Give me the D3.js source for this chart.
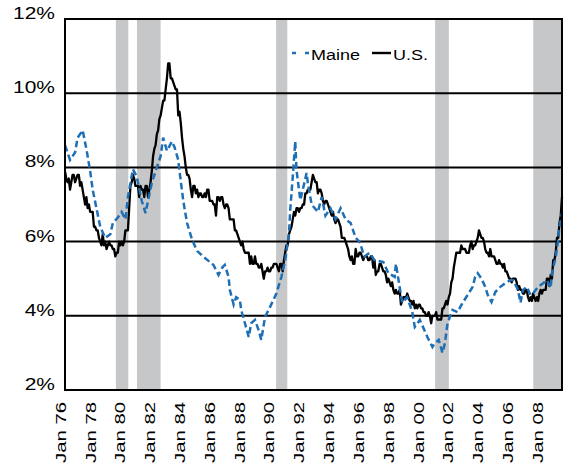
<!DOCTYPE html>
<html>
<head>
<meta charset="utf-8">
<script src="https://cdnjs.cloudflare.com/ajax/libs/d3/7.8.5/d3.min.js"></script>
<style>
  body { margin: 0; background: #fff; }
  svg { display: block; font-family: "Liberation Sans", Arial, Helvetica, sans-serif; }
</style>
</head>
<body>
<div id="chart"></div>
<script>
// U.S. unemployment rate (%), monthly, Jan 1976 - Dec 2008
var usRate = [
  7.9, 7.7, 7.6, 7.7, 7.4, 7.6, 7.8, 7.8, 7.6, 7.7, 7.8, 7.8,   // 1976
  7.5, 7.6, 7.4, 7.2, 7.0, 7.2, 6.9, 7.0, 6.8, 6.8, 6.8, 6.4,   // 1977
  6.4, 6.3, 6.3, 6.1, 6.0, 5.9, 6.2, 5.9, 6.0, 5.8, 5.9, 6.0,   // 1978
  5.9, 5.9, 5.8, 5.8, 5.6, 5.7, 5.7, 6.0, 5.9, 6.0, 5.9, 6.0,   // 1979
  6.3, 6.3, 6.3, 6.9, 7.5, 7.6, 7.8, 7.7, 7.5, 7.5, 7.5, 7.2,   // 1980
  7.5, 7.4, 7.4, 7.2, 7.5, 7.5, 7.2, 7.4, 7.6, 7.9, 8.3, 8.5,   // 1981
  8.6, 8.9, 9.0, 9.3, 9.4, 9.6, 9.8, 9.8, 10.1, 10.4, 10.8, 10.8, // 1982
  10.4, 10.4, 10.3, 10.2, 10.1, 10.1, 9.4, 9.5, 9.2, 8.8, 8.5, 8.3, // 1983
  8.0, 7.8, 7.8, 7.7, 7.4, 7.2, 7.5, 7.5, 7.3, 7.4, 7.2, 7.3,   // 1984
  7.3, 7.2, 7.2, 7.3, 7.2, 7.4, 7.4, 7.1, 7.1, 7.1, 7.0, 7.0,   // 1985
  6.7, 7.2, 7.2, 7.1, 7.2, 7.2, 7.0, 6.9, 7.0, 7.0, 6.9, 6.6,   // 1986
  6.6, 6.6, 6.6, 6.3, 6.3, 6.2, 6.1, 6.0, 5.9, 6.0, 5.8, 5.7,   // 1987
  5.7, 5.7, 5.7, 5.4, 5.6, 5.4, 5.4, 5.6, 5.4, 5.4, 5.3, 5.3,   // 1988
  5.4, 5.2, 5.0, 5.2, 5.2, 5.3, 5.2, 5.2, 5.3, 5.3, 5.4, 5.4,   // 1989
  5.4, 5.3, 5.2, 5.4, 5.4, 5.2, 5.5, 5.7, 5.9, 5.9, 6.2, 6.3,   // 1990
  6.4, 6.6, 6.8, 6.7, 6.9, 6.9, 6.8, 6.9, 6.9, 7.0, 7.0, 7.3,   // 1991
  7.3, 7.4, 7.4, 7.4, 7.6, 7.8, 7.7, 7.6, 7.6, 7.3, 7.4, 7.4,   // 1992
  7.3, 7.1, 7.0, 7.1, 7.1, 7.0, 6.9, 6.8, 6.7, 6.8, 6.6, 6.5,   // 1993
  6.6, 6.6, 6.5, 6.4, 6.1, 6.1, 6.1, 6.0, 5.9, 5.8, 5.6, 5.5,   // 1994
  5.6, 5.4, 5.4, 5.8, 5.6, 5.6, 5.7, 5.7, 5.6, 5.5, 5.6, 5.6,   // 1995
  5.6, 5.5, 5.5, 5.6, 5.6, 5.3, 5.5, 5.1, 5.2, 5.2, 5.4, 5.4,   // 1996
  5.3, 5.2, 5.2, 5.1, 4.9, 5.0, 4.9, 4.8, 4.9, 4.7, 4.6, 4.7,   // 1997
  4.6, 4.6, 4.7, 4.3, 4.4, 4.5, 4.5, 4.5, 4.6, 4.5, 4.4, 4.4,   // 1998
  4.3, 4.4, 4.2, 4.3, 4.2, 4.3, 4.3, 4.2, 4.2, 4.1, 4.1, 4.0,   // 1999
  4.0, 4.1, 4.0, 3.8, 4.0, 4.0, 4.0, 4.1, 3.9, 3.9, 3.9, 3.9,   // 2000
  4.2, 4.2, 4.3, 4.4, 4.3, 4.5, 4.6, 4.9, 5.0, 5.3, 5.5, 5.7,   // 2001
  5.7, 5.7, 5.7, 5.9, 5.8, 5.8, 5.8, 5.7, 5.7, 5.7, 5.9, 6.0,   // 2002
  5.8, 5.9, 5.9, 6.0, 6.1, 6.3, 6.2, 6.1, 6.1, 6.0, 5.8, 5.7,   // 2003
  5.7, 5.6, 5.8, 5.6, 5.6, 5.6, 5.5, 5.4, 5.4, 5.5, 5.4, 5.4,   // 2004
  5.3, 5.4, 5.2, 5.2, 5.1, 5.0, 5.0, 4.9, 5.0, 5.0, 5.0, 4.9,   // 2005
  4.7, 4.8, 4.7, 4.7, 4.6, 4.6, 4.7, 4.7, 4.5, 4.4, 4.5, 4.4,   // 2006
  4.6, 4.5, 4.4, 4.5, 4.4, 4.6, 4.7, 4.6, 4.7, 4.7, 4.7, 5.0,   // 2007
  5.0, 4.8, 5.1, 5.0, 5.5, 5.5, 5.7, 6.1, 6.1, 6.5, 6.7, 7.2    // 2008
];

// Maine unemployment rate (%); months since Jan 1976
var maineMonth = [
  0, 4, 8, 10, 14, 17, 20, 22, 25, 28,
  32, 36, 38, 42, 45, 48, 50, 54, 57, 61,
  64, 66, 69, 73, 76, 78, 81, 85, 87, 90,
  91, 94, 97, 101, 105, 109, 114, 118, 122, 125,
  127, 130, 131, 134, 136, 139, 140, 143, 146, 148,
  151, 154, 156, 159, 163, 168, 172, 175, 178, 179,
  181, 183, 184, 187, 189, 192, 193, 196, 201, 204,
  207, 211, 215, 219, 223, 227, 231, 234, 238, 242,
  246, 253, 257, 262, 263, 268, 272, 276, 278, 282,
  288, 292, 294, 297, 300, 302, 304, 308, 312, 316,
  320, 324, 326, 328, 331, 334, 336, 339, 342, 346,
  350, 354, 356, 360, 362, 364, 367, 370, 372, 376,
  380, 383, 386, 387, 390, 392, 393, 395
];
var maineRate = [
  8.6, 8.2, 8.4, 8.8, 9.0, 8.5, 7.9, 7.4, 6.9, 6.4,
  6.1, 6.2, 6.5, 6.65, 6.8, 6.6, 7.2, 7.95, 7.75, 7.1,
  6.77, 7.1, 7.58, 8.0, 8.3, 8.8, 8.45, 8.7, 8.55, 8.2,
  7.9, 7.1, 6.5, 6.05, 5.75, 5.62, 5.48, 5.37, 5.1, 5.3,
  5.37, 5.05, 4.7, 4.3, 4.5, 4.43, 4.16, 3.8, 3.43, 3.8,
  3.89, 3.6, 3.35, 3.97, 4.24, 4.6, 5.05, 5.5, 6.2, 6.85,
  7.74, 8.7, 7.93, 7.12, 7.4, 7.85, 7.58, 7.0, 6.8, 7.2,
  6.7, 6.9, 6.6, 6.9, 6.6, 6.5, 6.1, 6.0, 5.6, 5.7,
  5.5, 5.45, 5.15, 5.05, 5.4, 4.35, 4.5, 4.1, 3.7, 3.89,
  3.43, 3.16, 3.27, 3.35, 3.0, 3.27, 3.8, 4.16, 4.1, 4.35,
  4.56, 4.78, 5.05, 5.15, 5.0, 4.78, 4.56, 4.37, 4.64, 4.78,
  4.88, 4.96, 4.96, 4.7, 4.35, 4.7, 4.78, 4.56, 4.6, 4.78,
  4.88, 4.96, 4.75, 5.15, 5.58, 6.04, 6.4, 6.77
];

// Shaded recession periods (as drawn)
var recStart = ["1979-10", "1981-03", "1990-07", "2001-03", "2007-10"];
var recEnd   = ["1980-08", "1982-10", "1991-04", "2002-02", "2009-12"];

// Axis labels
var tickDates = ["1976-01", "1978-01", "1980-01", "1982-01", "1984-01", "1986-01",
                 "1988-01", "1990-01", "1992-01", "1994-01", "1996-01", "1998-01",
                 "2000-01", "2002-01", "2004-01", "2006-01", "2008-01"];
var yTicks = [2, 4, 6, 8, 10, 12];
var gridTicks = [4, 6, 8, 10];

var W = 566, H = 465;
var plot = { left: 65, top: 19, right: 562, bottom: 390 };
var parseMonth = d3.timeParse("%Y-%m");

// data line scale (month index)
var x = d3.scaleLinear()
    .domain([0, usRate.length - 1])
    .range([plot.left, plot.right]);
// label / shading scale
var xAxis = d3.scaleTime()
    .domain([parseMonth("1976-01"), parseMonth("2008-01")])
    .range([60, 537]);
var y = d3.scaleLinear()
    .domain([2, 12])
    .range([plot.bottom, plot.top]);

var svg = d3.select("#chart").append("svg")
    .attr("width", W)
    .attr("height", H);

svg.append("clipPath").attr("id", "clip")
  .append("rect")
    .attr("x", plot.left).attr("y", plot.top)
    .attr("width", plot.right - plot.left)
    .attr("height", plot.bottom - plot.top);

// Recession bars
svg.append("g").attr("clip-path", "url(#clip)")
  .selectAll("rect")
  .data(recStart)
  .enter().append("rect")
    .attr("x", function(d) { return xAxis(parseMonth(d)); })
    .attr("width", function(d, i) { return xAxis(parseMonth(recEnd[i])) - xAxis(parseMonth(d)); })
    .attr("y", plot.top)
    .attr("height", plot.bottom - plot.top)
    .attr("fill", "#c6c7c9");

// Gridlines
svg.append("g")
  .selectAll("line")
  .data(gridTicks)
  .enter().append("line")
    .attr("x1", plot.left).attr("x2", plot.right)
    .attr("y1", function(d) { return y(d); })
    .attr("y2", function(d) { return y(d); })
    .attr("stroke", "#000")
    .attr("stroke-width", 2);

// Lines
var usLine = d3.line()
    .x(function(d, i) { return x(i); })
    .y(function(d) { return y(d); });
var maineLine = d3.line()
    .x(function(d, i) { return x(maineMonth[i]); })
    .y(function(d) { return y(d); });

svg.append("path")
    .datum(usRate)
    .attr("d", usLine)
    .attr("fill", "none")
    .attr("stroke", "#000")
    .attr("stroke-width", 2.3)
    .attr("stroke-linejoin", "round");

svg.append("path")
    .datum(maineRate)
    .attr("d", maineLine)
    .attr("fill", "none")
    .attr("stroke", "#1f6fb5")
    .attr("stroke-width", 2.5)
    .attr("stroke-dasharray", "6.5,3.5");

// Frame
svg.append("rect")
    .attr("x", plot.left).attr("y", plot.top)
    .attr("width", plot.right - plot.left)
    .attr("height", plot.bottom - plot.top)
    .attr("fill", "none")
    .attr("stroke", "#000")
    .attr("stroke-width", 2);

// Y labels (baseline sits on the gridline)
svg.append("g")
  .selectAll("text")
  .data(yTicks)
  .enter().append("text")
    .attr("x", 55)
    .attr("y", function(d) { return y(d); })
    .attr("text-anchor", "end")
    .style("font-size", "16.5px")
    .text(function(d) { return d + "%"; })
    .each(function() {
        var len = this.getComputedTextLength();
        d3.select(this).attr("textLength", len * 1.27).attr("lengthAdjust", "spacingAndGlyphs");
    });

// X labels
var xg = svg.append("g")
    .attr("transform", "translate(0," + plot.bottom + ")")
    .call(d3.axisBottom(xAxis)
        .tickValues(tickDates.map(parseMonth))
        .tickFormat(d3.timeFormat("Jan %y"))
        .tickSize(0));
xg.select(".domain").remove();
xg.selectAll("text")
    .attr("x", -12)
    .attr("y", 0)
    .attr("dy", "0.35em")
    .attr("transform", "rotate(-90)")
    .style("text-anchor", "end")
    .style("font-family", "\"Liberation Sans\", Arial, sans-serif")
    .style("font-size", "15px")
    .attr("fill", "#000")
    .attr("textLength", 61)
    .attr("lengthAdjust", "spacingAndGlyphs");

// Legend
var lg = svg.append("g");
lg.append("line")
    .attr("x1", 292).attr("x2", 311).attr("y1", 53).attr("y2", 53)
    .attr("stroke", "#1f6fb5").attr("stroke-width", 2.4)
    .attr("stroke-dasharray", "4,9");
lg.append("text").attr("x", 311).attr("y", 60)
    .style("font-size", "15.5px").attr("textLength", 49).attr("lengthAdjust", "spacingAndGlyphs")
    .text("Maine");
lg.append("line")
    .attr("x1", 372).attr("x2", 391).attr("y1", 53).attr("y2", 53)
    .attr("stroke", "#000").attr("stroke-width", 2.4);
lg.append("text").attr("x", 393).attr("y", 60)
    .style("font-size", "15.5px").attr("textLength", 35).attr("lengthAdjust", "spacingAndGlyphs")
    .text("U.S.");
</script>
</body>
</html>
